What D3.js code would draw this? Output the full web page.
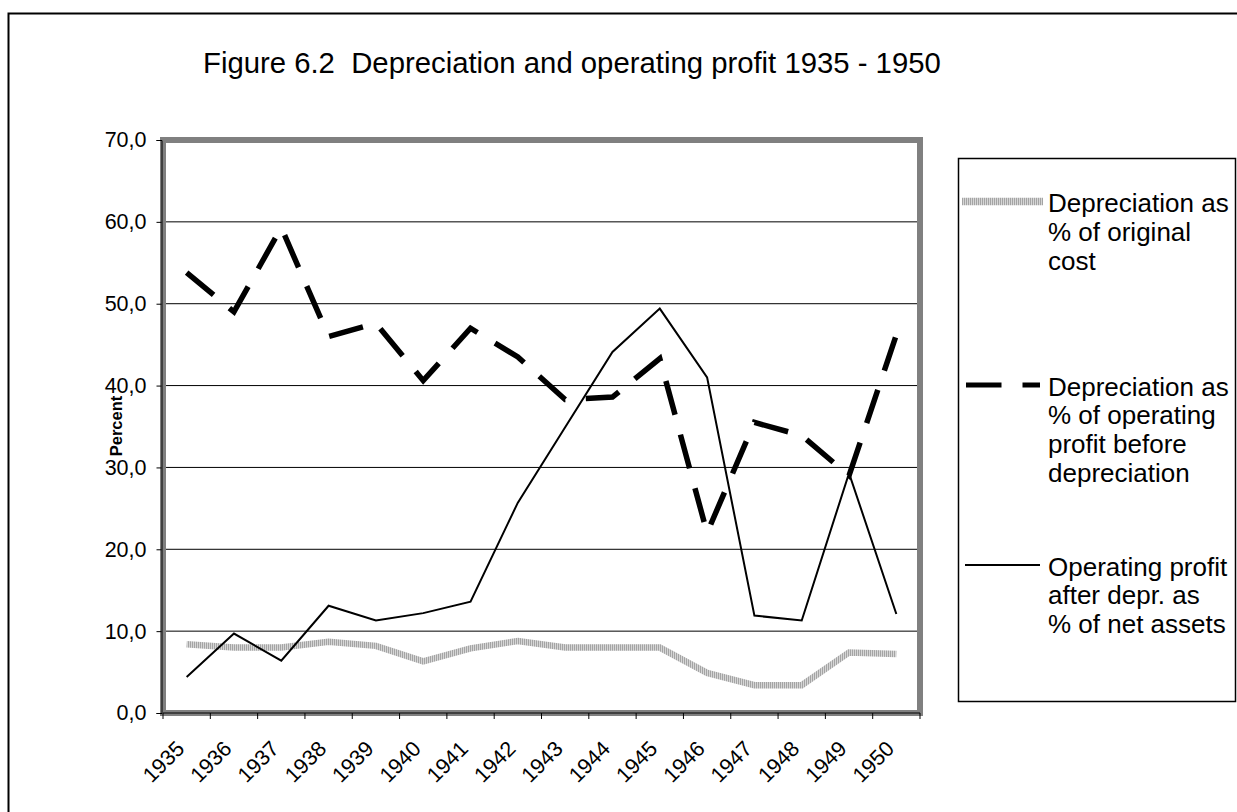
<!DOCTYPE html>
<html>
<head>
<meta charset="utf-8">
<script src="https://cdn.jsdelivr.net/npm/d3@7"></script>
<style>
body{margin:0;background:#fff;}
svg{display:block;font-family:"Liberation Sans",Arial,sans-serif;}
</style>
</head>
<body>
<div id="chart"></div>
<script>
var years=['1935','1936','1937','1938','1939','1940','1941','1942','1943','1944','1945','1946','1947','1948','1949','1950']
// depreciation as % of original cost
var deprCost=[8.4,8.0,8.0,8.7,8.2,6.3,7.9,8.8,8.0,8.0,8.0,4.9,3.4,3.4,7.4,7.2]
// depreciation as % of operating profit before depreciation
var deprProfit=[53.8,49.0,59.3,46.0,47.6,40.6,47.0,43.5,38.3,38.6,43.3,22.0,35.5,33.9,29.0,46.2]
// operating profit after depr. as % of net assets
var opProfit=[4.4,9.7,6.4,13.1,11.3,12.2,13.6,25.7,34.9,44.1,49.4,41.0,11.9,11.3,29.3,12.1]
var yTicks=[0,10,20,30,40,50,60,70]
var legendLabels=[
    ['Depreciation as','% of original','cost'],
    ['Depreciation as','% of operating','profit before','depreciation'],
    ['Operating profit','after depr. as','% of net assets']
]
var title='Figure 6.2\u00a0 Depreciation and operating profit 1935 - 1950'

var W=1237,H=812
var x0=163,x1=920,y0=713,y1=140

var svg=d3.select('#chart').append('svg').attr('width',W).attr('height',H)

// hatched grey for the first series
var defs=svg.append('defs')
var pat=defs.append('pattern').attr('id','hatch').attr('patternUnits','userSpaceOnUse')
    .attr('width',2).attr('height',4)
pat.append('rect').attr('width',2).attr('height',4).attr('fill','#d6d6d6')
pat.append('rect').attr('width',1).attr('height',4).attr('fill','#a4a4a4')

// outer frame
svg.append('rect').attr('x',8.5).attr('y',13.5).attr('width',1240).attr('height',810)
    .attr('fill','none').attr('stroke','#000').attr('stroke-width',2)

svg.append('text').attr('x',203).attr('y',73).style('font-size','29.3px').text(title)

var xscale=d3.scaleBand().domain(years).range([x0,x1])
var yscale=d3.scaleLinear().domain([0,70]).range([y0,y1])

// grid
svg.append('g').selectAll('line').data(yTicks.filter(function(d){return d>0&&d<70})).enter()
    .append('line')
    .attr('x1',x0).attr('x2',x1)
    .attr('y1',function(d){return yscale(d)}).attr('y2',function(d){return yscale(d)})
    .attr('stroke','#000').attr('stroke-width',1)

// plot area border
svg.append('rect').attr('x',x0).attr('y',y1).attr('width',x1-x0).attr('height',y0-y1)
    .attr('fill','none').attr('stroke','#808080').attr('stroke-width',6)

// y axis
var yaxis=svg.append('g').attr('transform','translate('+(x0-1.5)+',0)')
    .call(d3.axisLeft(yscale).tickValues(yTicks).tickSize(5).tickPadding(10)
        .tickFormat(function(d){return d3.format('.1f')(d).replace('.',',')}))
yaxis.select('.domain').attr('stroke','#000')
yaxis.selectAll('text').style('font-size','21.5px').attr('fill','#000')

// x axis, ticks between categories
var xaxis=svg.append('g').attr('transform','translate(0,'+y0+')')
xaxis.append('line').attr('x1',x0).attr('x2',x1).attr('stroke','#000')
var bounds=years.map(function(d){return xscale(d)}).concat([x1])
xaxis.selectAll('.tk').data(bounds).enter().append('line').attr('class','tk')
    .attr('x1',function(d){return d}).attr('x2',function(d){return d})
    .attr('y1',0).attr('y2',6).attr('stroke','#000')
xaxis.selectAll('.lbl').data(years).enter().append('text').attr('class','lbl')
    .attr('transform',function(d){return 'translate('+(xscale(d)+xscale.bandwidth()/2-1)+',37) rotate(-45)'})
    .attr('text-anchor','end').style('font-size','21.5px').text(function(d){return d})

svg.append('text').attr('transform','translate(122,426) rotate(-90)')
    .attr('text-anchor','middle').style('font-size','16.5px').style('font-weight','bold').text('Percent')

var line=d3.line()
    .x(function(d,i){return xscale(years[i])+xscale.bandwidth()/2})
    .y(function(d){return yscale(d)})

svg.append('path').attr('d',line(deprCost)).attr('fill','none')
    .attr('stroke','url(#hatch)').attr('stroke-width',6.5)
svg.append('path').attr('d',line(deprProfit)).attr('fill','none')
    .attr('stroke','#000').attr('stroke-width',5.5).attr('stroke-dasharray','35,20.5')
svg.append('path').attr('d',line(opProfit)).attr('fill','none')
    .attr('stroke','#000').attr('stroke-width',2)

// legend
var lg=svg.append('g')
lg.append('rect').attr('x',958.5).attr('y',158.5).attr('width',277).attr('height',543)
    .attr('fill','#fff').attr('stroke','#000').attr('stroke-width',1.5)
var entryY=[201.5,385,565]
var styles=[
    {stroke:'url(#hatch)',w:7.5,dash:null,xa:962,xb:1043},
    {stroke:'#000',w:5,dash:'35.5,21',xa:966,xb:1040},
    {stroke:'#000',w:2,dash:null,xa:965,xb:1040}
]
legendLabels.forEach(function(lines,k){
    var s=styles[k]
    lg.append('line').attr('x1',s.xa).attr('x2',s.xb).attr('y1',entryY[k]).attr('y2',entryY[k])
        .attr('stroke',s.stroke).attr('stroke-width',s.w).attr('stroke-dasharray',s.dash)
    var t=lg.append('text').attr('x',1048).attr('y',entryY[k]+10.5).style('font-size','26px')
    lines.forEach(function(l,j){
        t.append('tspan').attr('x',1048).attr('dy',j==0?0:28.8).text(l)
    })
})
</script>
</body>
</html>
